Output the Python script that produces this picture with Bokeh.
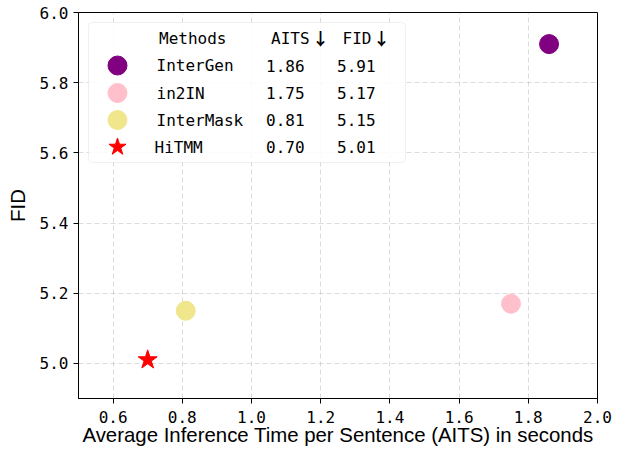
from bokeh.plotting import figure
from bokeh.models import Range1d, BoxAnnotation, ColumnDataSource, FixedTicker, PrintfTickFormatter
from bokeh.core.properties import value
from bokeh.embed import file_html
from bokeh.resources import INLINE

# ---- data ----
methods = ["InterGen", "in2IN", "InterMask", "HiTMM"]
aits = [1.86, 1.75, 0.81, 0.70]
fid = [5.91, 5.17, 5.15, 5.01]
x_ticks = [0.6, 0.8, 1.0, 1.2, 1.4, 1.6, 1.8, 2.0]
y_ticks = [5.0, 5.2, 5.4, 5.6, 5.8, 6.0]
header = ["Methods", "AITS", "FID"]
arrows = ["\u2193", "\u2193"]

# ---- styles ----
colors = ["purple", "pink", "khaki", "red"]
markers = ["circle", "circle", "circle", "star"]
sizes = [19, 19, 19, 20]
legend_sizes = [19, 19, 19, 18]

MONO = "DejaVu Sans Mono"
SANS = "Liberation Sans"

FW, FH = 519, 386  # frame size in px

p = figure(width=619, height=451, frame_width=FW, frame_height=FH,
           output_backend="svg", toolbar_location=None,
           x_range=Range1d(0.5, 2.0), y_range=Range1d(4.9, 6.0),
           min_border_left=78, min_border_right=22, min_border_top=12,
           min_border_bottom=53)
p.extra_x_ranges = {"lx": Range1d(0, FW)}
p.extra_y_ranges = {"ly": Range1d(FH, 0)}

p.outline_line_color = "black"
p.outline_line_width = 1
p.background_fill_color = "white"
p.border_fill_color = "white"

for ax in (p.xaxis, p.yaxis):
    ax.axis_line_color = "black"
    ax.major_tick_line_color = "black"
    ax.major_tick_out = 5
    ax.major_tick_in = 0
    ax.minor_tick_line_color = None
    ax.major_label_text_font = MONO
    ax.major_label_text_font_size = "16px"
    ax.major_label_text_color = "black"
    ax.axis_label_text_font = SANS
    ax.axis_label_text_font_size = "20.4px"
    ax.axis_label_text_font_style = "normal"
    ax.axis_label_text_color = "black"
    ax.formatter = PrintfTickFormatter(format="%.1f")

p.xaxis.ticker = FixedTicker(ticks=x_ticks)
p.yaxis.ticker = FixedTicker(ticks=y_ticks)
p.xaxis.axis_label = "Average Inference Time per Sentence (AITS) in seconds"
p.yaxis.axis_label = "FID"
p.xaxis.major_label_standoff = 7
p.yaxis.major_label_standoff = 5
p.xaxis.axis_label_standoff = -2
p.yaxis.axis_label_standoff = 8

for g in (p.xgrid, p.ygrid):
    g.grid_line_color = "#b0b0b0"
    g.grid_line_alpha = 0.45
    g.grid_line_dash = "5 3"
    g.grid_line_width = 1

# data points
src = ColumnDataSource(dict(x=aits, y=fid, color=colors, marker=markers, size=sizes))
p.scatter("x", "y", source=src, fill_color="color", line_color="color",
          marker="marker", size="size")

# ---- custom table legend (in frame pixel coordinates) ----
box = BoxAnnotation(left=10, right=327, top=10, bottom=150,
                    x_range_name="lx", y_range_name="ly",
                    fill_color="white", fill_alpha=0.85,
                    line_color="#cccccc", line_width=1, border_radius=4,
                    level="underlay")
p.add_layout(box)

row_y = [53, 80.5, 107.5, 134.5]
header_y = 26
lsrc = ColumnDataSource(dict(x=[39] * len(methods), y=row_y, color=colors,
                             marker=markers, size=legend_sizes))
p.scatter("x", "y", source=lsrc, fill_color="color", line_color="color",
          marker="marker", size="size", x_range_name="lx", y_range_name="ly")

p.text(x=[80.5, 192.5, 264], y=[header_y] * 3, text=header,
       x_range_name="lx", y_range_name="ly",
       text_font=value(MONO), text_font_size="16px", text_color="black",
       text_baseline="middle", text_align="left")
p.text(x=[242, 303], y=[header_y - 1] * 2, text=arrows,
       x_range_name="lx", y_range_name="ly",
       text_font=value("Noto Sans CJK SC"), text_font_size="17px",
       text_font_style="bold", text_color="black",
       text_baseline="middle", text_align="center")

rows_txt = dict(
    x=[78, 78, 78, 76] + [187.5] * 4 + [258.5] * 4,
    y=row_y * 3,
    t=methods + [f"{a:.2f}" for a in aits] + [f"{f:.2f}" for f in fid],
)
p.text(x="x", y="y", text="t", source=ColumnDataSource(rows_txt),
       x_range_name="lx", y_range_name="ly",
       text_font=value(MONO), text_font_size="16px", text_color="black",
       text_baseline="middle", text_align="left")

open("out.html", "w").write(file_html(p, INLINE))
